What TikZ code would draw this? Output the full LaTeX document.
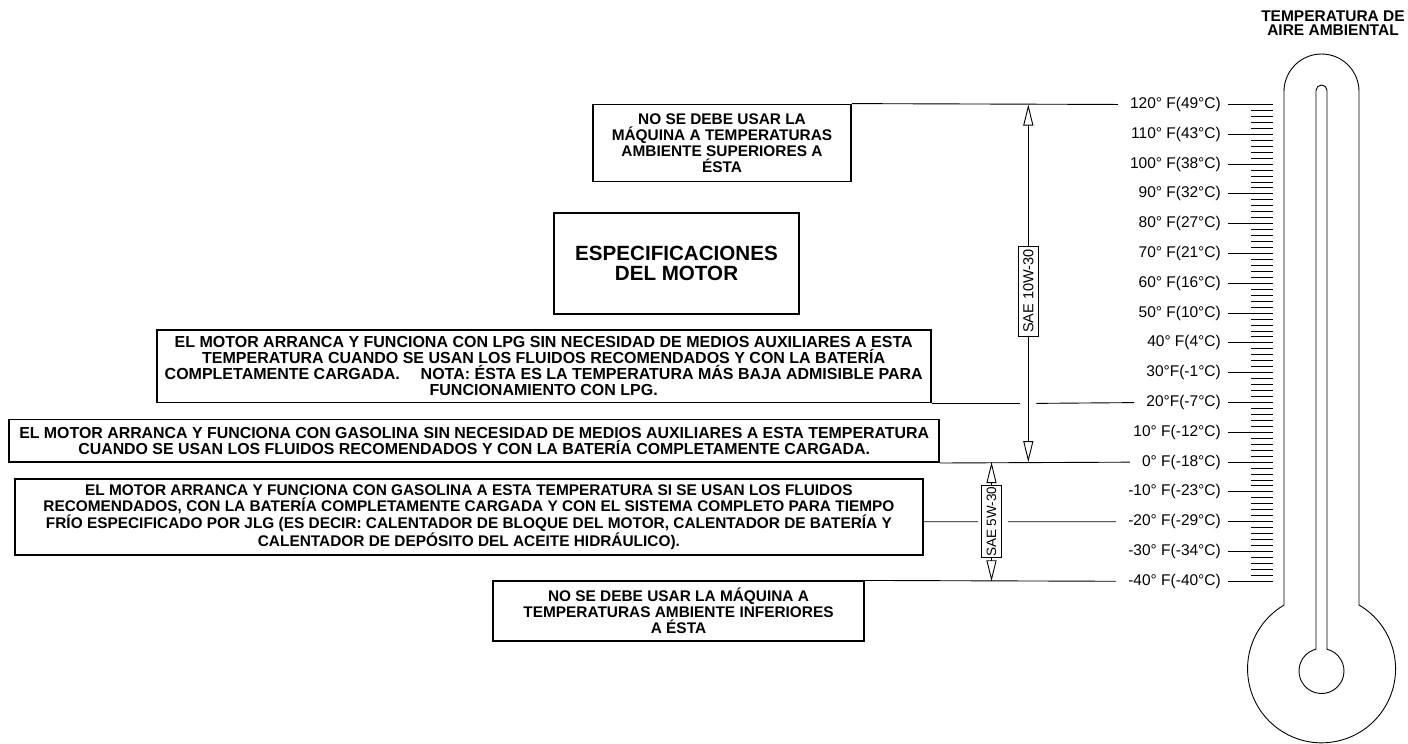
\documentclass[tikz,border=0pt]{standalone}
\usepackage{fontspec}
\setmainfont{Liberation Sans}
\usepackage{tikz}
\usetikzlibrary{arrows.meta,calc}
\tikzset{
  notebox/.style={
    draw,
    line width=1.8pt,
    inner sep=0pt,
    align=center,
    font=\fontsize{15.4}{16}\selectfont\bfseries
  },
  templabel/.style={
    anchor=east,
    inner sep=0pt,
    font=\fontsize{15.5}{18}\selectfont
  },
  leader/.style={
    line width=0.9pt
  },
  scaletick/.style={
    line width=0.9pt
  },
  saelabel/.style={
    draw,
    line width=0.9pt,
    rotate=90,
    inner xsep=0.5pt,
    inner ysep=0pt,
    minimum height=20pt,
    font=\fontsize{13.5}{16}\selectfont
  },
  saearrow/.style={
    -{Triangle[open,length=21pt,width=10pt]},
    line width=0.9pt
  },
  glass/.style={
    line width=0.9pt
  }
}

\begin{document}
\begin{tikzpicture}[x=1pt,y=-1pt]
\useasboundingbox (0,0) rectangle (1408,744);

\node[font=\fontsize{15.5}{14}\selectfont\bfseries, align=center] (title) at (1333,23) {TEMPERATURA DE\\AIRE AMBIENTAL};

\foreach \lab [count=\k from 0] in {120° F(49°C),110° F(43°C),100° F(38°C),90° F(32°C),80° F(27°C),70° F(21°C),60° F(16°C),50° F(10°C),40° F(4°C),30°F(-1°C),20°F(-7°C),10° F(-12°C),0° F(-18°C),-10° F(-23°C),-20° F(-29°C),-30° F(-34°C),-40° F(-40°C)}
  \node[templabel] (t\k) at (1221,{104.5+29.8*\k}) {\lab};
\foreach \k in {0,...,16}
  \draw[scaletick] ([xshift=7pt]t\k.east) -- ([xshift=52pt]t\k.east);
\foreach \k in {0,...,15}
  \foreach \j in {1,...,4}
    \draw[scaletick] (1251,{104.5+29.8*\k+5.96*\j}) -- (1273,{104.5+29.8*\k+5.96*\j});

% thermometer
\draw[glass] (1284,605) -- (1284,91.5) arc[start angle=180,end angle=360,radius=37.5] -- (1359,605) arc[start angle=-59.6,end angle=239.6,radius=74];
\draw[glass] (1316,649.2) -- (1316,90.5) arc[start angle=180,end angle=360,radius=5.5] -- (1327,649.2) arc[start angle=-75.8,end angle=255.8,radius=22.5];

\node[notebox, minimum width=258pt, minimum height=77pt] (hot) at (722,143) {NO SE DEBE USAR LA\\MÁQUINA A TEMPERATURAS\\AMBIENTE SUPERIORES A\\ÉSTA};
\node[notebox, minimum width=245pt, minimum height=101pt, font=\fontsize{20.6}{20}\selectfont\bfseries] (spec) at (676.5,263.8) {ESPECIFICACIONES\\DEL MOTOR};
\node[notebox, minimum width=774pt, minimum height=72.5pt, font=\fontsize{16}{16}\selectfont\bfseries] (lpg) at (543.7,366.3) {EL MOTOR ARRANCA Y FUNCIONA CON LPG SIN NECESIDAD DE MEDIOS AUXILIARES A ESTA\\TEMPERATURA CUANDO SE USAN LOS FLUIDOS RECOMENDADOS Y CON LA BATERÍA\\COMPLETAMENTE CARGADA.\hspace{1.3em}NOTA: ÉSTA ES LA TEMPERATURA MÁS BAJA ADMISIBLE PARA\\FUNCIONAMIENTO CON LPG.};
\node[notebox, minimum width=929.7pt, minimum height=42.6pt, font=\fontsize{15.9}{15.5}\selectfont\bfseries] (gas) at (474.2,440.8) {EL MOTOR ARRANCA Y FUNCIONA CON GASOLINA SIN NECESIDAD DE MEDIOS AUXILIARES A ESTA TEMPERATURA\\CUANDO SE USAN LOS FLUIDOS RECOMENDADOS Y CON LA BATERÍA COMPLETAMENTE CARGADA.};
\node[notebox, minimum width=907.7pt, minimum height=75.7pt] (cold) at (468.9,517.2) {EL MOTOR ARRANCA Y FUNCIONA CON GASOLINA A ESTA TEMPERATURA SI SE USAN LOS FLUIDOS\\RECOMENDADOS, CON LA BATERÍA COMPLETAMENTE CARGADA Y CON EL SISTEMA COMPLETO PARA TIEMPO\\FRÍO ESPECIFICADO POR JLG (ES DECIR: CALENTADOR DE BLOQUE DEL MOTOR, CALENTADOR DE BATERÍA Y\\CALENTADOR DE DEPÓSITO DEL ACEITE HIDRÁULICO).};
\node[notebox, minimum width=371.6pt, minimum height=59.7pt] (low) at (678.5,611.2) {NO SE DEBE USAR LA MÁQUINA A\\TEMPERATURAS AMBIENTE INFERIORES\\A ÉSTA};

\node[saelabel, minimum width=90pt, font=\fontsize{14.5}{16}\selectfont] (sae10) at (1028.3,291) {SAE 10W-30};
\node[saelabel, minimum width=72pt] (sae5) at (991.5,521.7) {SAE 5W-30};

\draw[leader, shorten >=12pt] (hot.north east) -- (t0.west);
\draw[leader, shorten >=8pt] (lpg.south east) -- (lpg.south east -| sae10);
\draw[leader, shorten <=8pt, shorten >=12pt] (lpg.south east -| sae10) -- (t10.west);
\draw[leader, shorten >=12pt] (gas.south east) -- (t12.west);
\draw[leader, shorten >=3pt] (cold.east |- t14.west) -- (sae5);
\draw[leader, shorten <=6pt, shorten >=12pt] (sae5) -- (t14.west);
\draw[leader, shorten >=12pt] (low.north east) -- (t16.west);

\draw[saearrow] (sae10) -- (sae10 |- t0.west);
\draw[saearrow] (sae10) -- (sae10 |- t12.west);
\draw[saearrow] (sae5) -- (sae5 |- t12.west);
\draw[saearrow] (sae5) -- (sae5 |- t16.west);
\end{tikzpicture}
\end{document}
